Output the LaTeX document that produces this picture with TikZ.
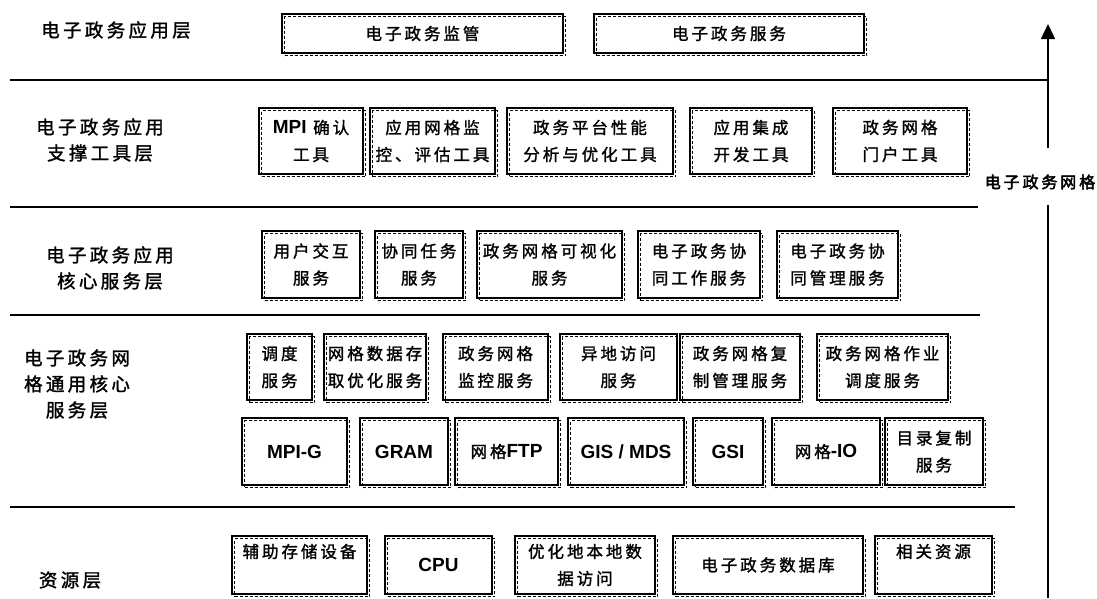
\documentclass[tikz,border=0pt]{standalone}
\usepackage{fontspec}
\setmainfont{Noto Sans CJK SC}[LetterSpace=18,FakeBold=1.5]
\newfontfamily\latfont{Liberation Sans}
\newfontfamily\gridfont{Noto Sans CJK SC}[LetterSpace=18,FakeBold=3]
\newcommand{\lw}[1]{{\latfont\bfseries\fontsize{19}{27}\selectfont #1}}
\usetikzlibrary{arrows.meta,shadows}

\begin{document}
\begin{tikzpicture}[x=1pt,y=-1pt,
  box/.style={draw,line width=1.4pt,align=center,inner sep=0pt,
    font=\fontsize{16.5}{27}\selectfont,
    copy shadow={shadow xshift=2.5pt,shadow yshift=-2.5pt,draw,densely dashed,line width=0.5pt,fill=none}},
  layer/.style={align=center,font=\fontsize{18.5}{26}\selectfont}]
\useasboundingbox (0,0) rectangle (1097,598);

% layer names
\node[layer] (yyc) at (116,30) {电子政务应用层};
\node[layer] (zcc) at (100,140) {电子政务应用\\支撑工具层};
\node[layer] (hxc) at (110,268) {电子政务应用\\核心服务层};
\node[layer] (tyc) at (77,384) {电子政务网\\格通用核心\\服务层};
\node[layer] (zyc) at (70,580) {资源层};

% separators
\draw[line width=1.2pt] (10,80) -- (1048,80);
\draw[line width=1.2pt] (10,207) -- (978,207);
\draw[line width=1.2pt] (10,315) -- (980,315);
\draw[line width=1.2pt] (10,507) -- (1015,507);

% application layer
\node[box,minimum width=281,minimum height=39] (jg) at (422.5,33.5) {电子政务监管};
\node[box,minimum width=270,minimum height=39] (fw) at (729,33.5) {电子政务服务};

% support tools
\node[box,minimum width=104,minimum height=66] (t1) at (311,141) {\lw{MPI} 确认\\工具};
\node[box,minimum width=125,minimum height=66] (t2) at (432.5,141) {应用网格监\\控、评估工具};
\node[box,minimum width=166,minimum height=66] (t3) at (590,141) {政务平台性能\\分析与优化工具};
\node[box,minimum width=122,minimum height=66] (t4) at (751,141) {应用集成\\开发工具};
\node[box,minimum width=134,minimum height=66] (t5) at (900,141) {政务网格\\门户工具};

% core services
\node[box,minimum width=98,minimum height=67] (s1) at (311,264.5) {用户交互\\服务};
\node[box,minimum width=88,minimum height=67] (s2) at (419,264.5) {协同任务\\服务};
\node[box,minimum width=145,minimum height=67] (s3) at (549.5,264.5) {政务网格可视化\\服务};
\node[box,minimum width=122,minimum height=67] (s4) at (699,264.5) {电子政务协\\同工作服务};
\node[box,minimum width=121,minimum height=67] (s5) at (837.5,264.5) {电子政务协\\同管理服务};

% grid common services
\node[box,minimum width=65,minimum height=66] (g1) at (279.5,367) {调度\\服务};
\node[box,minimum width=102,minimum height=66] (g2) at (375,367) {网格数据存\\取优化服务};
\node[box,minimum width=105,minimum height=66] (g3) at (495.5,367) {政务网格\\监控服务};
\node[box,minimum width=117,minimum height=66] (g4) at (618.5,367) {异地访问\\服务};
\node[box,minimum width=120,minimum height=66] (g5) at (740,367) {政务网格复\\制管理服务};
\node[box,minimum width=131,minimum height=66] (g6) at (882.5,367) {政务网格作业\\调度服务};

\node[box,minimum width=105,minimum height=67] (b1) at (294.5,451.5) {\lw{MPI-G}};
\node[box,minimum width=88,minimum height=67] (b2) at (404,451.5) {\lw{GRAM}};
\node[box,minimum width=103,minimum height=67] (b3) at (506.5,451.5) {网格\lw{FTP}};
\node[box,minimum width=116,minimum height=67] (b4) at (626,451.5) {\lw{GIS / MDS}};
\node[box,minimum width=70,minimum height=67] (b5) at (728,451.5) {\lw{GSI}};
\node[box,minimum width=108,minimum height=67] (b6) at (826,451.5) {网格\lw{-IO}};
\node[box,minimum width=98,minimum height=67] (b7) at (934,451.5) {目录复制\\服务};

% resources
\node[box,minimum width=135,minimum height=58] (r1) at (299.5,565) {辅助存储设备\\\phantom{资}};
\node[box,minimum width=107,minimum height=58] (r2) at (438.5,565) {\lw{CPU}};
\node[box,minimum width=140,minimum height=58] (r3) at (585,565) {优化地本地数\\据访问};
\node[box,minimum width=190,minimum height=58] (r4) at (768,565) {电子政务数据库};
\node[box,minimum width=117,minimum height=58] (r5) at (933.5,565) {相关资源\\\phantom{资}};

% grid axis
\node[font=\gridfont\fontsize{16}{18}\selectfont] (grid) at (1040,182) {电子政务网格};
\coordinate (gbot) at (1048,598);
\coordinate (gtop) at (1048,24);
\coordinate (glo) at ([yshift=-23pt]grid.center);
\coordinate (ghi) at ([yshift=34pt]grid.center);
\draw[line width=1.3pt] (gbot) -- (gbot |- glo);
\draw[line width=1.3pt,-{Triangle[width=14pt,length=15pt]}] (gtop |- ghi) -- (gtop);
\end{tikzpicture}
\end{document}
